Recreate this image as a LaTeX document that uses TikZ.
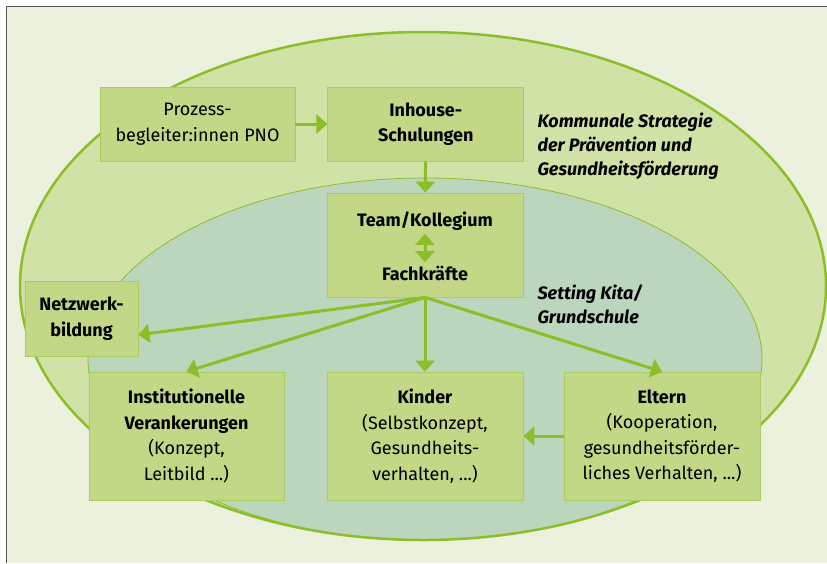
\documentclass[tikz,border=0pt]{standalone}
\usepackage{fontspec}
\setmainfont{Fira Sans}
\usepackage{tikz}
\usetikzlibrary{positioning, arrows.meta}

\definecolor{bggreen}{HTML}{EBF1DD}
\definecolor{outergreen}{HTML}{D1E2A6}
\definecolor{innergreen}{HTML}{BCD5BD}
\definecolor{boxgreen}{HTML}{C2D886}
\definecolor{linegreen}{HTML}{8CBE2A}
\definecolor{framegray}{HTML}{555555}

\tikzset{
  box/.style={draw=linegreen!75, line width=0.8pt, fill=boxgreen, align=center,
    inner sep=2pt, font={\fontsize{18}{25.5}\selectfont}},
  tip/.style={Triangle[length=11pt,width=19pt]},
  arr/.style={-{Triangle[length=11pt,width=19pt]}, draw=linegreen, line width=3pt},
  label/.style={align=left, anchor=west, font={\fontsize{18}{24}\selectfont\bfseries\itshape}},
}

\begin{document}
\begin{tikzpicture}[x=1pt, y=-1pt]
	\useasboundingbox (0,0) rectangle (827,563);
	\fill[bggreen] (6,6) rectangle (827,563);
	\draw[framegray, line width=1.5pt] (6.5,563) -- (6.5,6.5) -- (827,6.5);

	% ellipses
	\fill[outergreen] (423,286) ellipse [x radius=403pt, y radius=254pt];
	\draw[fill=innergreen, draw=linegreen, line width=0.8pt] (425,359) ellipse [x radius=337pt, y radius=181pt];
	\draw[linegreen, line width=2.5pt] (423,286) ellipse [x radius=403pt, y radius=254pt];

	% boxes
	\node[box, minimum width=195pt, minimum height=74pt] (P) at (197.5,124) {Prozess-\\begleiter:innen PNO};
	\node[box, minimum width=196pt, minimum height=74pt] (I) [right=32pt of P] {\bfseries Inhouse-\\\bfseries Schulungen};
	\node[box, minimum width=196pt, minimum height=104pt] (T) at (425,245) {};
	\node[font={\fontsize{18}{25}\selectfont\bfseries}] (TK) at (425,221) {Team/Kollegium};
	\node[font={\fontsize{18}{25}\selectfont\bfseries}] (FK) at (425,273) {Fachkräfte};
	\node[box, minimum width=113pt, minimum height=75pt] (N) at (81.5,318.5) {\bfseries Netzwerk-\\\bfseries bildung};
	\node[box, minimum width=195pt, minimum height=128pt] (V) at (186.5,436) {\bfseries Institutionelle\\\bfseries Verankerungen\\(Konzept,\\Leitbild ...)};
	\node[box, minimum width=196pt, minimum height=128pt] (K) at (425,436) {\bfseries Kinder\\(Selbstkonzept,\\Gesundheits-\\verhalten, ...)};
	\node[box, minimum width=196pt, minimum height=128pt] (E) at (662,436) {\bfseries Eltern\\(Kooperation,\\gesundheitsförder-\\liches Verhalten, ...)};

	% texts
	\node[label] (S) at (534,146) {Kommunale Strategie\\der Prävention und\\Gesundheitsförderung};
	\node[label] (G) at (534,304) {Setting Kita/\\Grundschule};

	\draw[arr] (P) -- (I);
	\draw[arr] (I) -- (T);
	\draw[arr] (T.south) -- (N.-16);
	\draw[arr] (T.south) -- (V.north);
	\draw[arr] (T.south) -- (K.north);
	\draw[arr] (T.south) -- (E.north);
	\draw[arr] (E) -- (K);
	\draw[arr, {Triangle[length=11pt,width=19pt]}-{Triangle[length=11pt,width=19pt]}] (TK) -- (FK);
\end{tikzpicture}
\end{document}
